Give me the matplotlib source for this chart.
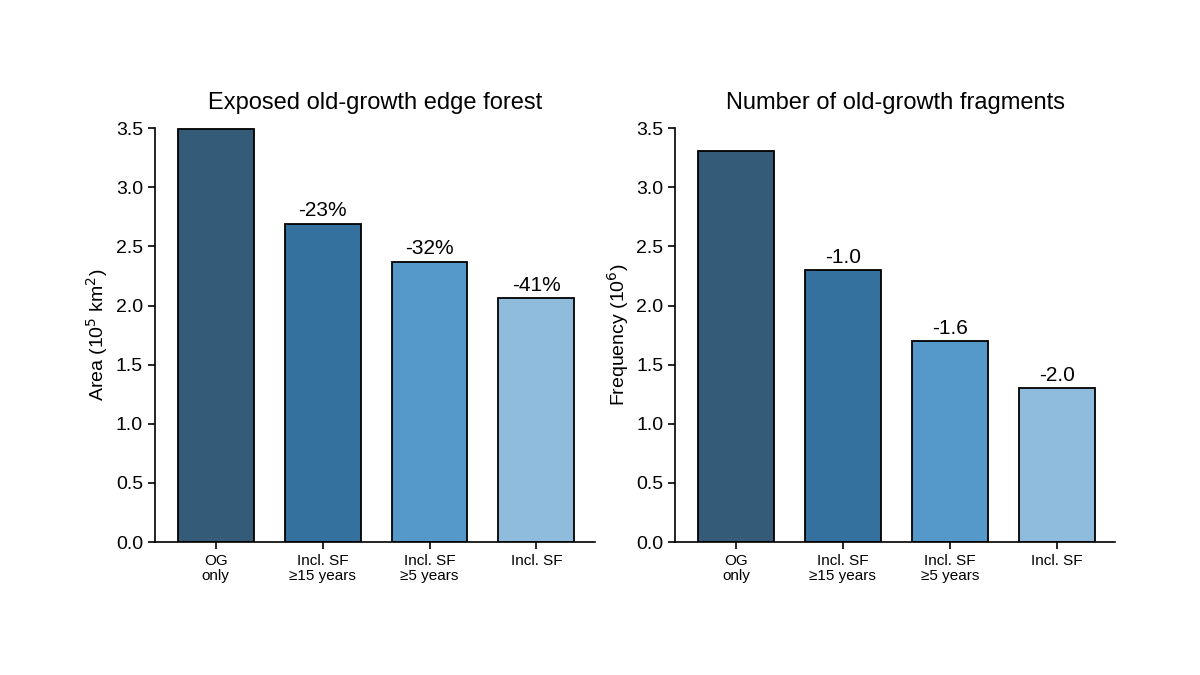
import matplotlib
matplotlib.use("Agg")
import matplotlib.pyplot as plt

categories = ["OG\nonly", "Incl. SF\n≥15 years", "Incl. SF\n≥5 years", "Incl. SF"]
area = [3.49, 2.69, 2.37, 2.06]
area_labels = ["", "-23%", "-32%", "-41%"]
freq = [3.31, 2.30, 1.70, 1.30]
freq_labels = ["", "-1.0", "-1.6", "-2.0"]
colors = ["#345b78", "#35719f", "#5499ca", "#8fbcdc"]

plt.rcParams['font.family'] = ['Liberation Sans', 'DejaVu Sans']
fig = plt.figure(figsize=(12, 6.75), dpi=100)
specs = [
    (0.129, area, area_labels, "Exposed old-growth edge forest", "Area (10$^5$ km$^2$)"),
    (0.5625, freq, freq_labels, "Number of old-growth fragments", "Frequency (10$^6$)"),
]
for left, vals, labs, title, ylab in specs:
    ax = fig.add_axes([left, 0.197, 0.367, 0.613])
    x = range(len(vals))
    ax.bar(x, vals, width=0.71, color=colors, edgecolor="black", linewidth=1.3)
    for xi, v, l in zip(x, vals, labs):
        if l:
            ax.text(xi, v + 0.03, l, ha="center", va="bottom", fontsize=15)
    ax.set_xlim(-0.57, 3.55)
    ax.set_ylim(0, 3.5)
    ax.set_yticks([0, 0.5, 1, 1.5, 2, 2.5, 3, 3.5])
    ax.set_yticklabels([f"{t:.1f}" for t in ax.get_yticks()], fontsize=14)
    ax.set_xticks(list(x))
    ax.set_xticklabels(categories, fontsize=11, linespacing=1.1)
    ax.set_title(title, fontsize=17, pad=14)
    ax.set_ylabel(ylab, fontsize=14)
    for s in ["top", "right"]:
        ax.spines[s].set_visible(False)
    for s in ["left", "bottom"]:
        ax.spines[s].set_linewidth(1.2)
    ax.tick_params(width=1.2, length=5)

fig.savefig("out.png", dpi=100)
